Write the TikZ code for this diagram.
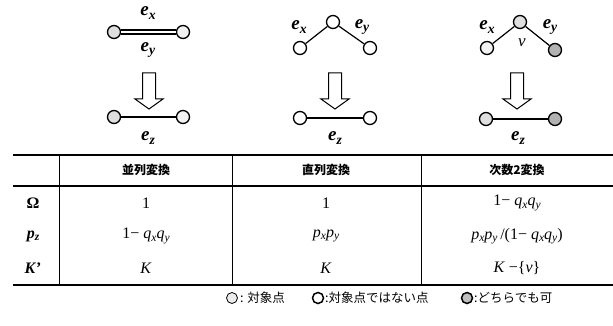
\documentclass[tikz,border=0pt]{standalone}
\usepackage{fontspec}
\usepackage{graphicx}
\setmainfont{Liberation Serif}
\newfontfamily\jpfont{Noto Sans CJK JP}
\newcommand\mysub[1]{\raisebox{-0.35ex}{\scalebox{0.72}{\textit{#1}}}}
\newcommand\qxqy{\textit{q}\mysub{x}\textit{q}\mysub{y}}
\newcommand\pxpy{\textit{p}\mysub{x}\textit{p}\mysub{y}}
\tikzset{
  vtx/.style={circle, draw, line width=1.3pt, minimum size=13pt, inner sep=0pt},
  tgt/.style={vtx, fill=gray!25},
  tgtl/.style={vtx, fill=gray!10},
  non/.style={vtx, fill=white},
  any/.style={vtx, fill=gray!60},
  edge/.style={line width=1.2pt},
  elab/.style={font=\fontsize{19}{21}\selectfont\bfseries\itshape, inner sep=0pt},
  cell/.style={font=\fontsize{16}{18}\selectfont, inner sep=0pt},
  hcell/.style={font=\jpfont\bfseries\fontsize{12}{14}\selectfont, inner sep=0pt},
  lcell/.style={font=\fontsize{16}{18}\selectfont\bfseries, inner sep=0pt},
  leg/.style={font=\jpfont\fontsize{12.5}{14}\selectfont, inner sep=0pt, anchor=west},
  legsym/.style={circle, draw, minimum size=11pt, inner sep=0pt},
  rule/.style={line width=1.7pt},
  vrule/.style={line width=1pt},
  harrow/.pic={\draw[line width=1pt, fill=white] (-6.5,0) -- (6.5,0) -- (6.5,26) -- (14,26) -- (0,36) -- (-14,26) -- (-6.5,26) -- cycle;}
}
\begin{document}
\begin{tikzpicture}[x=1pt,y=-1pt]
\useasboundingbox (0,0) rectangle (613,326);
% ---- column 1: parallel
\node[tgt] (p1) at (114,32) {};
\node[tgtl] (p2) at (183,32) {};
\draw[line width=1.2pt, double, double distance=2.8pt] (p1) -- (p2);
\node[elab] (lx1) at (148,13) {e\mysub{x}};
\node[elab] (ly1) at (148,50) {e\mysub{y}};
\pic at (149,73) {harrow};
\node[tgt] (q1) at (114,117) {};
\node[tgtl] (q2) at (183,117) {};
\draw[edge] (q1) -- (q2);
\node[elab] (lz1) at (148,138) {e\mysub{z}};
% ---- column 2: series
\node[non] (s0) at (333,22) {};
\node[non] (s1) at (300,48) {};
\node[non] (s2) at (370,48) {};
\draw[edge] (s1) -- (s0);
\draw[edge] (s0) -- (s2);
\node[elab] (lx2) at (299,27) {e\mysub{x}};
\node[elab] (ly2) at (362,27) {e\mysub{y}};
\pic at (335,73) {harrow};
\node[non] (t1) at (300,118) {};
\node[non] (t2) at (370,118) {};
\draw[edge] (t1) -- (t2);
\node[elab] (lz2) at (335,138) {e\mysub{z}};
% ---- column 3: degree-2
\node[tgt] (d0) at (520,22) {};
\node[tgtl] (d1) at (487,48) {};
\node[any] (d2) at (555,50) {};
\draw[edge] (d1) -- (d0);
\draw[edge] (d0) -- (d2);
\node[elab] (lx3) at (487,27) {e\mysub{x}};
\node[elab] (ly3) at (550,27) {e\mysub{y}};
\node[elab, font=\fontsize{17}{19}\selectfont\itshape] (lv) at (522,43) {v};
\pic at (517,73) {harrow};
\node[tgt] (u1) at (486,119) {};
\node[any] (u2) at (555,119) {};
\draw[edge] (u1) -- (u2);
\node[elab] (lz3) at (518,138) {e\mysub{z}};
% ---- table
\coordinate (tl) at (13,155);
\coordinate (tr) at (613,155);
\coordinate (hl) at (13,186);
\coordinate (hr) at (613,186);
\coordinate (bl) at (13,285);
\coordinate (br) at (613,285);
\draw[rule] (tl) -- (tr);
\draw[rule] (hl) -- (hr);
\draw[rule] (bl) -- (br);
\foreach \xx/\nm in {59/va,232/vb,421/vc}{
  \coordinate (\nm t) at (\xx,155);
  \coordinate (\nm b) at (\xx,285);
  \draw[vrule] (\nm t) -- (\nm b);
}
\node[hcell] (h1) at (146,170) {並列変換};
\node[hcell] (h2) at (326,170) {直列変換};
\node[hcell] (h3) at (517,170) {次数2変換};
\node[lcell] (r1) at (33,203) {Ω};
\node[lcell] (r2) at (33,236) {\textit{p}\mysub{z}};
\node[lcell] (r3) at (33,268) {\textit{K}'};
\node[cell] (c11) at (146,203) {1};
\node[cell] (c12) at (326,203) {1};
\node[cell] (c13) at (517,203) {1− \qxqy};
\node[cell] (c21) at (146,236) {1− \qxqy};
\node[cell] (c22) at (326,236) {\pxpy};
\node[cell] (c23) at (517,236) {\pxpy\,/(1− \qxqy)};
\node[cell] (c31) at (146,268) {\textit{K}};
\node[cell] (c32) at (326,268) {\textit{K}};
\node[cell] (c33) at (517,268) {\textit{K} −\{\textit{v}\}};
% ---- legend
\node[legsym, line width=0.8pt, fill=gray!15] (g1) at (232,298) {};
\node[leg] (g1t) at (240,298) {: 対象点};
\node[legsym, line width=1.5pt, fill=white] (g2) at (318,298) {};
\node[leg] (g2t) at (325,298) {:対象点ではない点};
\node[legsym, line width=1.5pt, fill=gray!50] (g3) at (467,298) {};
\node[leg] (g3t) at (474,298) {:どちらでも可};
\end{tikzpicture}
\end{document}
